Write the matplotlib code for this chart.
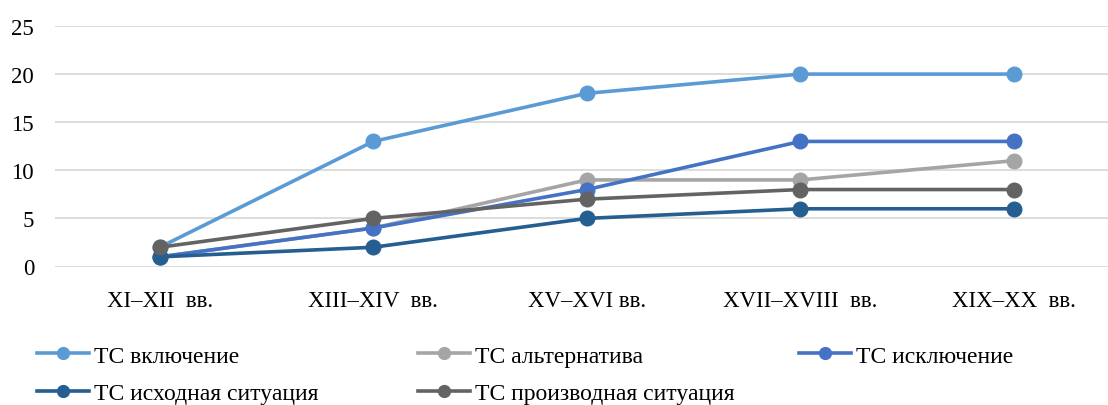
import numpy as np
import matplotlib.pyplot as plt

plt.rcParams['font.family'] = ['Liberation Serif', 'DejaVu Serif']

periods = ["XI–XII  вв.", "XIII–XIV  вв.", "XV–XVI вв.", "XVII–XVIII  вв.", "XIX–XX  вв."]

vkl = [2, 13, 18, 20, 20]
alt = [1, 4, 9, 9, 11]
iskl = [1, 4, 8, 13, 13]
ishod = [1, 2, 5, 6, 6]
proizv = [2, 5, 7, 8, 8]

series = [
    ("ТС включение", vkl, "#5B9BD5"),
    ("ТС альтернатива", alt, "#A5A5A5"),
    ("ТС исключение", iskl, "#4472C4"),
    ("ТС исходная ситуация", ishod, "#255E91"),
    ("ТС производная ситуация", proizv, "#636363"),
]

fig = plt.figure(figsize=(11.08, 4.06), dpi=100)
ax = fig.add_axes([55 / 1108, 1 - 267.5 / 406, 1053 / 1108, 240.5 / 406])

x = np.arange(len(periods))
handles = {}
for name, vals, col in series:
    h, = ax.plot(x, vals, color=col, lw=2.6, marker="o", markersize=10.5,
                 solid_capstyle="round", label=name, clip_on=False)
    handles[name] = h

ax.set_xlim(-0.49, 4.44)
ax.set_ylim(0, 25)
ax.set_yticks(range(0, 26, 5))
ax.set_xticks(x)
ax.set_xticklabels(periods)
ax.grid(axis="y", color="#DDDDDD", lw=1.4)
ax.set_axisbelow(True)
for s in ax.spines.values():
    s.set_visible(False)
ax.tick_params(length=0, labelsize=16.5)
ax.tick_params(axis="x", pad=17)
ax.tick_params(axis="y", pad=15)

# legend in three columns, like the original
cols = [
    (["ТС включение", "ТС исходная ситуация"], 37),
    (["ТС альтернатива", "ТС производная ситуация"], 418),
    (["ТС исключение"], 799),
]
for names, xpos in cols:
    hs = []
    for n in names:
        h = plt.Line2D([], [], color=handles[n].get_color(), lw=2.6,
                       marker="o", markersize=8.5)
        hs.append(h)
    fig.legend(hs, names, loc="upper left",
               bbox_to_anchor=(xpos / 1108, 1 - 346 / 406),
               frameon=False, fontsize=17, handlelength=2.2,
               handletextpad=0.2, labelspacing=0.68, borderpad=0,
               borderaxespad=0)

fig.savefig("out.png", dpi=100)
